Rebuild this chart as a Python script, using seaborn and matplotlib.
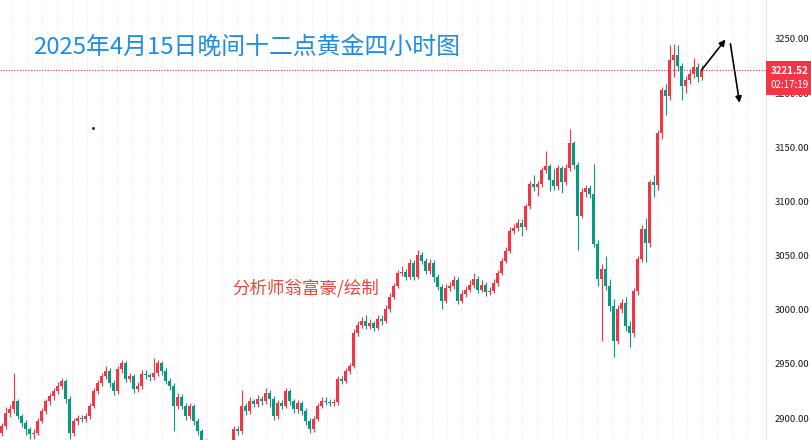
import numpy as np
import matplotlib
matplotlib.use("Agg")
import matplotlib.pyplot as plt
from matplotlib.patches import Rectangle
import seaborn as sns

sns.set_style("white")
plt.rcParams['font.family'] = ['Noto Sans CJK SC', 'DejaVu Sans']

# 4H gold candles
first_open = 2886.0
closes = [
    2892.6, 2904.6, 2908.4, 2915.7, 2901.8, 2895.3, 2889.8, 2885.2, 2886.1, 2897.2,
    2906.5, 2915.7, 2920.3, 2925.0, 2929.6, 2934.2, 2917.6, 2886.1, 2897.2, 2900.0,
    2899.0, 2901.8, 2911.1, 2925.0, 2932.4, 2938.9, 2943.5, 2932.4, 2925.0, 2945.3,
    2950.9, 2936.1, 2938.9, 2926.8, 2929.6, 2940.7, 2939.8, 2937.9, 2941.6, 2950.9,
    2943.5, 2934.2, 2929.6, 2911.1, 2919.4, 2911.1, 2901.8, 2911.1, 2897.2, 2887.9,
    2878.7, 2871.2, 2867.5, 2864.8, 2869.4, 2864.8, 2862.0, 2874.0, 2889.8, 2887.9,
    2911.1, 2906.5, 2915.7, 2913.0, 2917.6, 2915.7, 2923.1, 2917.6, 2901.8, 2913.9,
    2911.1, 2925.0, 2915.7, 2908.4, 2913.9, 2906.5, 2897.2, 2889.8, 2899.0, 2911.1,
    2915.7, 2915.0, 2913.9, 2914.8, 2936.1, 2934.2, 2943.5, 2948.1, 2978.7, 2986.1,
    2989.8, 2985.2, 2987.9, 2983.3, 2991.6, 2989.8, 3000.9, 3012.0, 3022.2, 3034.2,
    3035.2, 3030.5, 3043.5, 3030.5, 3050.9, 3045.4, 3036.1, 3043.5, 3030.5, 3021.3,
    3008.3, 3020.4, 3022.2, 3027.8, 3008.3, 3014.8, 3018.5, 3023.1, 3028.7, 3018.5,
    3023.1, 3016.7, 3017.6, 3025.0, 3034.2, 3045.4, 3054.6, 3073.1, 3075.9, 3080.5,
    3076.8, 3095.4, 3115.7, 3113.0, 3115.7, 3128.7, 3132.4, 3119.4, 3113.9, 3130.6,
    3117.6, 3130.6, 3153.7, 3133.3, 3087.0, 3108.3, 3112.0, 3106.5, 3061.1, 3028.7,
    3038.0, 3022.2, 3003.7, 2971.3, 3000.9, 3006.5, 2985.2, 2978.7, 3017.6, 3047.2,
    3075.0, 3062.0, 3117.6, 3114.8, 3163.0, 3202.8, 3197.2, 3230.6, 3235.2, 3225.0,
    3206.5, 3212.0, 3217.6, 3224.1, 3214.8, 3221.52,
]
highs = [
    2895, 2910, 2912, 2942, 2918, 2904, 2898, 2892, 2890, 2900,
    2909, 2918, 2923, 2928, 2933, 2937, 2936, 2920, 2900, 2903,
    2903, 2905, 2914, 2928, 2935, 2942, 2948, 2946, 2935, 2948,
    2954, 2953, 2942, 2941, 2933, 2944, 2944, 2942, 2955, 2954,
    2953, 2946, 2937, 2932, 2923, 2922, 2914, 2914, 2913, 2900,
    2890, 2881, 2874, 2870, 2873, 2872, 2868, 2877, 2893, 2893,
    2926, 2914, 2919, 2918, 2921, 2920, 2928, 2926, 2920, 2917,
    2917, 2928, 2927, 2918, 2917, 2916, 2909, 2900, 2902, 2914,
    2919, 2919, 2918, 2918, 2939, 2939, 2946, 2951, 2982, 2990,
    2993, 2995, 2991, 2990, 2995, 2995, 3004, 3015, 3025, 3037,
    3040, 3038, 3047, 3046, 3055, 3053, 3048, 3047, 3046, 3033,
    3024, 3024, 3026, 3031, 3030, 3018, 3022, 3027, 3034, 3031,
    3027, 3026, 3021, 3028, 3037, 3048, 3058, 3076, 3079, 3084,
    3084, 3098, 3119, 3124, 3119, 3132, 3147, 3135, 3130, 3134,
    3133, 3135, 3167, 3156, 3136, 3112, 3115, 3115, 3135, 3064,
    3042, 3050, 3028, 3010, 3004, 3010, 3012, 2990, 3020, 3050,
    3078, 3085, 3120, 3124, 3166, 3206, 3208, 3244, 3245, 3244,
    3228, 3216, 3222, 3232, 3228, 3226,
]
lows = [
    2883, 2890, 2901, 2905, 2899, 2892, 2884, 2881, 2881, 2884,
    2895, 2904, 2912, 2917, 2922, 2927, 2914, 2881, 2883, 2894,
    2896, 2896, 2899, 2909, 2922, 2930, 2936, 2929, 2921, 2922,
    2942, 2933, 2933, 2923, 2924, 2927, 2936, 2934, 2935, 2939,
    2940, 2931, 2926, 2888, 2908, 2908, 2898, 2899, 2894, 2884,
    2875, 2867, 2864, 2861, 2862, 2861, 2858, 2860, 2871, 2884,
    2885, 2903, 2904, 2910, 2910, 2912, 2913, 2910, 2898, 2899,
    2908, 2909, 2912, 2905, 2905, 2903, 2894, 2886, 2887, 2897,
    2909, 2912, 2911, 2911, 2912, 2931, 2932, 2941, 2946, 2976,
    2983, 2982, 2982, 2980, 2981, 2986, 2988, 2998, 3010, 3020,
    3031, 3027, 3028, 3027, 3028, 3042, 3033, 3033, 3026, 3018,
    3001, 3006, 3017, 3019, 3005, 3006, 3012, 3016, 3020, 3015,
    3016, 3013, 3014, 3015, 3022, 3032, 3043, 3052, 3070, 3073,
    3068, 3074, 3093, 3110, 3105, 3113, 3126, 3110, 3111, 3111,
    3108, 3115, 3128, 3130, 3055, 3085, 3104, 3103, 3058, 3022,
    2971, 3018, 2999, 2956, 2968, 2997, 2980, 2966, 2975, 3014,
    3044, 3044, 3058, 3104, 3111, 3158, 3180, 3194, 3215, 3220,
    3194, 3200, 3208, 3214, 3210, 3212,
]
opens = [first_open] + closes[:-1]

last_price = 3221.52
countdown = "02:17:19"
price_ticks = [2900, 2950, 3000, 3050, 3100, 3150, 3200, 3250]
title = "2025年4月15日晚间十二点黄金四小时图"
author = "分析师翁富豪/绘制"

up_color = "#f23645"
down_color = "#089981"

o = np.array(opens)
c = np.array(closes)
h = np.array(highs)
l = np.array(lows)
x = np.arange(len(c))
colors = np.where(c >= o, up_color, down_color)

fig = plt.figure(figsize=(8.12, 4.40), dpi=100)
ax = fig.add_axes([0, 0, 766 / 812, 1])

# faint vertical dotted grid
for gx in np.arange(2.625, 195, 3.75):
    ax.axvline(gx, color="#e3e6ee", lw=0.8, ls=(0, (1, 2)), zorder=0)

ax.vlines(x, l, h, colors=colors, lw=0.8, zorder=2)
body = np.maximum(np.abs(c - o), 0.7)
ax.bar(x, body, bottom=np.minimum(o, c), width=0.65, color=colors, lw=0, zorder=3)

ax.axhline(last_price, color=up_color, lw=0.8, ls=(0, (1, 1.5)), zorder=1)

ax.set_xlim(-0.375, 191.1)
ax.set_ylim(2879.7, 3286.0)
ax.set_xticks([])
ax.yaxis.tick_right()
ax.set_yticks(price_ticks)
ax.set_yticklabels([f"{p:.2f}" for p in price_ticks])
ax.tick_params(axis="y", length=0, pad=6.5, labelsize=6.8, labelcolor="#131722")
for s in ["top", "left", "bottom"]:
    ax.spines[s].set_visible(False)
ax.spines["right"].set_color("#e0e3eb")
ax.spines["right"].set_linewidth(0.8)

# last price tag on the scale
fig.patches.append(Rectangle((766, 440 - 95), 46, 34, transform=None,
                             facecolor=up_color, edgecolor="none", zorder=5))
fig.text(790 / 812, (440 - 70.5) / 440, f"{last_price:.2f}", color="white",
         fontsize=7, ha="center", va="center", fontweight="bold", zorder=6)
fig.text(790 / 812, (440 - 85) / 440, countdown, color="white",
         fontsize=7, ha="center", va="center", zorder=6)

fig.text(33 / 812, (440 - 47) / 440, title, color="#1f8ee0", fontsize=17.2,
         ha="left", va="center")
fig.text(232 / 812, (440 - 288) / 440, author, color="#e8453c", fontsize=12.6,
         ha="left", va="center")

# hand drawn arrows
ax.annotate("", xy=(181.4, 3251.5), xytext=(174.6, 3219.5),
            arrowprops=dict(arrowstyle="-|>", color="black", lw=1.2,
                            mutation_scale=9), zorder=7)
ax.annotate("", xy=(184.6, 3188.5), xytext=(182.1, 3248.0),
            arrowprops=dict(arrowstyle="-|>", color="black", lw=1.2,
                            mutation_scale=9), zorder=7)
ax.plot([22.9], [3167.8], marker="o", ms=1.2, color="#333333")

fig.savefig("out.png", dpi=100)
